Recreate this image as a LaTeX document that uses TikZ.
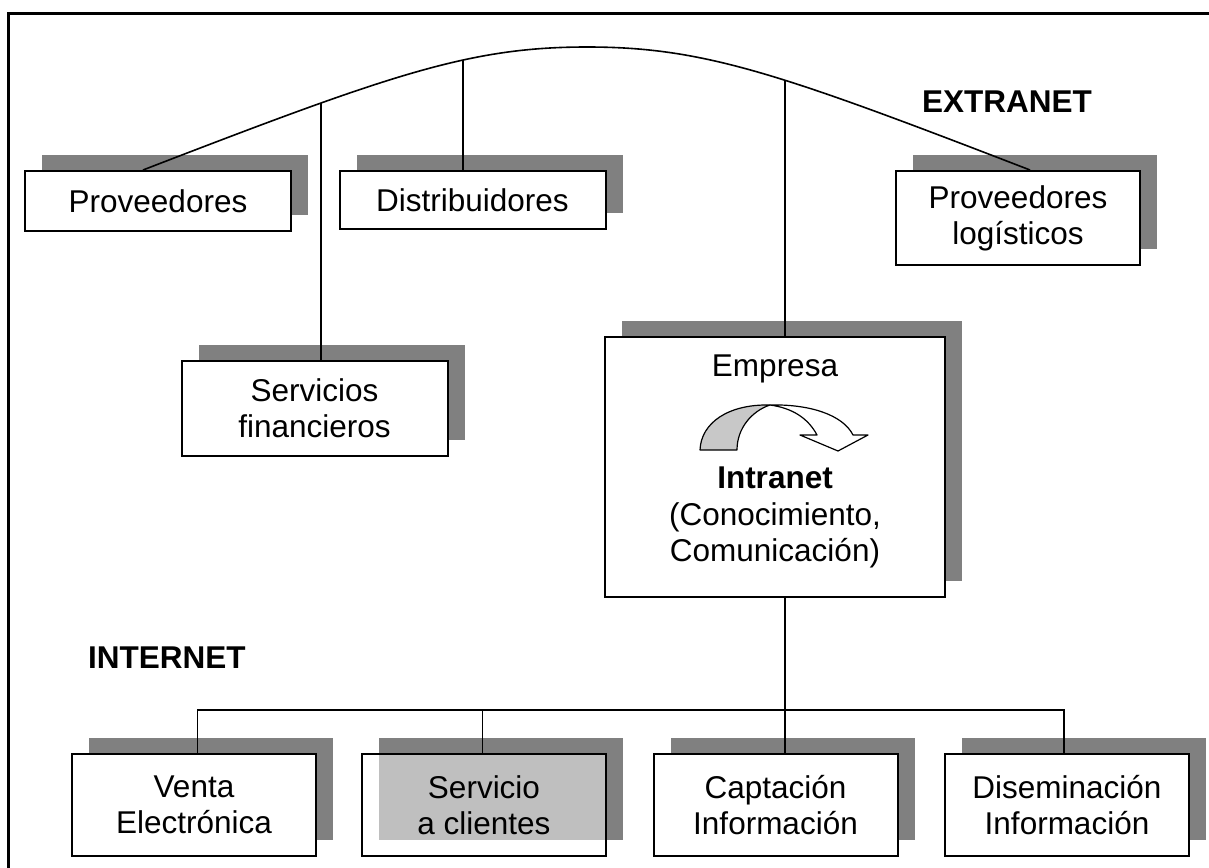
\documentclass[tikz,border=0pt]{standalone}
\usepackage{fontspec}
\setmainfont{Liberation Sans}
\usetikzlibrary{calc,intersections,shadows}
\definecolor{shade}{HTML}{808080}
\definecolor{backface}{HTML}{C8C8C8}
\begin{document}
\begin{tikzpicture}[x=1pt,y=-1pt,
  txt/.style={font=\fontsize{31.5}{36}\selectfont},
  box/.style={txt, draw, line width=2pt, fill=white, inner sep=0pt, align=center,
    drop shadow={shadow xshift=17pt, shadow yshift=16pt, fill=shade, opacity=1}},
  topbox/.style={box, minimum width=266pt, minimum height=60pt},
  midbox/.style={box, minimum width=266pt, minimum height=95pt},
  lowbox/.style={box, minimum width=244pt, minimum height=102pt},
  tag/.style={font=\fontsize{31.5}{36}\selectfont\bfseries, anchor=base west, inner sep=0pt},
  inline/.style={txt, anchor=base, inner sep=0pt},
  link/.style={line width=1.6pt}]
\useasboundingbox (0,0) rectangle (1209,867);
\clip (0,0) rectangle (1209,867);

% outer frame (open to the right and bottom)
\draw[line width=3.3pt] (8.5,900) -- (8.5,13.5) -- (1230,13.5);

% partners on the extranet
\node[topbox] (prov) at (158,201) {Proveedores};
\node[topbox, minimum height=58pt] (dist) at (472.5,200) {Distribuidores};
\node[box, minimum width=244pt, minimum height=94pt] (plog) at (1018,218) {Proveedores\\log\'isticos};
\node[midbox] (sfin) at (314.5,408.5) {Servicios\\financieros};

% the company
\node[box, minimum width=340pt, minimum height=260pt] (emp) at (775,467) {};
\node[inline] (empname) at ($(emp.north)+(0,40)$) {Empresa};
\node[inline, font=\fontsize{31.5}{36}\selectfont\bfseries] (intra) at ($(emp.north)+(0,152)$) {Intranet};
\node[inline] (conoc) at ($(emp.north)+(0,189)$) {(Conocimiento,};
\node[inline] (comun) at ($(emp.north)+(0,225)$) {Comunicaci\'on)};

% curved arrow inside the company box
\filldraw[fill=backface, line width=1.2pt, line join=round]
  (700,450) .. controls (701,423) and (728,404) .. (770,405)
  .. controls (752,411) and (737,428) .. (737,450) -- cycle;
\filldraw[fill=white, line width=1.2pt, line join=round]
  (770,405) .. controls (810,404) and (843,415) .. (853,435)
  -- (868,435) -- (838,451) -- (800,435) -- (817,435)
  .. controls (808,418) and (792,408) .. (770,405) -- cycle;

% internet services
\node[lowbox] (venta) at (194,805) {Venta\\Electr\'onica};
\node[lowbox, fill opacity=0.5, text opacity=1] (serv) at (484,805) {Servicio\\a clientes};
\node[lowbox] (capt) at (775.5,805) {Captaci\'on\\Informaci\'on};
\node[lowbox] (disem) at (1067,805) {Diseminaci\'on\\Informaci\'on};

% labels
\node[tag] (extranet) at (922,112) {EXTRANET};
\node[tag] (internet) at (88,668) {INTERNET};

% extranet arc
\coordinate (arcL) at ($(prov.north)+(-15,0)$);
\coordinate (arcR) at ($(plog.north)+(12,0)$);
\draw[link, name path=bell] (arcL) .. controls (393,73.5) and (470,47) .. (587,47)
  .. controls (704,47) and (780,73.5) .. (arcR);

% drops from the arc
\coordinate (dSf) at ($(sfin.north)+(6.5,0)$);
\coordinate (dDi) at ($(dist.north)+(-9.5,0)$);
\coordinate (dEm) at ($(emp.north)+(10,0)$);
\path[name path=vSf] (dSf) -- ++(0,-400);
\path[name path=vDi] (dDi) -- ++(0,-400);
\path[name path=vEm] (dEm) -- ++(0,-400);
\path[name intersections={of=bell and vSf, by=hSf}];
\path[name intersections={of=bell and vDi, by=hDi}];
\path[name intersections={of=bell and vEm, by=hEm}];
\draw[link] (hSf) -- (dSf);
\draw[link] (hDi) -- (dDi);
\draw[link] (hEm) -- (dEm);

% internet tree
\coordinate (bus) at (0,710);
\coordinate (hub) at ($(emp.south)+(10,0)$);
\coordinate (vA) at ($(venta.north)+(3.5,0)$);
\coordinate (vB) at ($(serv.north)+(-1.5,0)$);
\coordinate (vD) at ($(disem.north)+(-3,0)$);
\draw[link] (hub) -- (hub |- capt.north);
\draw[link] (vA) -- (vA |- bus) -- (vD |- bus) -- (vD);
\draw[link] (vB) -- (vB |- bus);
\end{tikzpicture}
\end{document}
